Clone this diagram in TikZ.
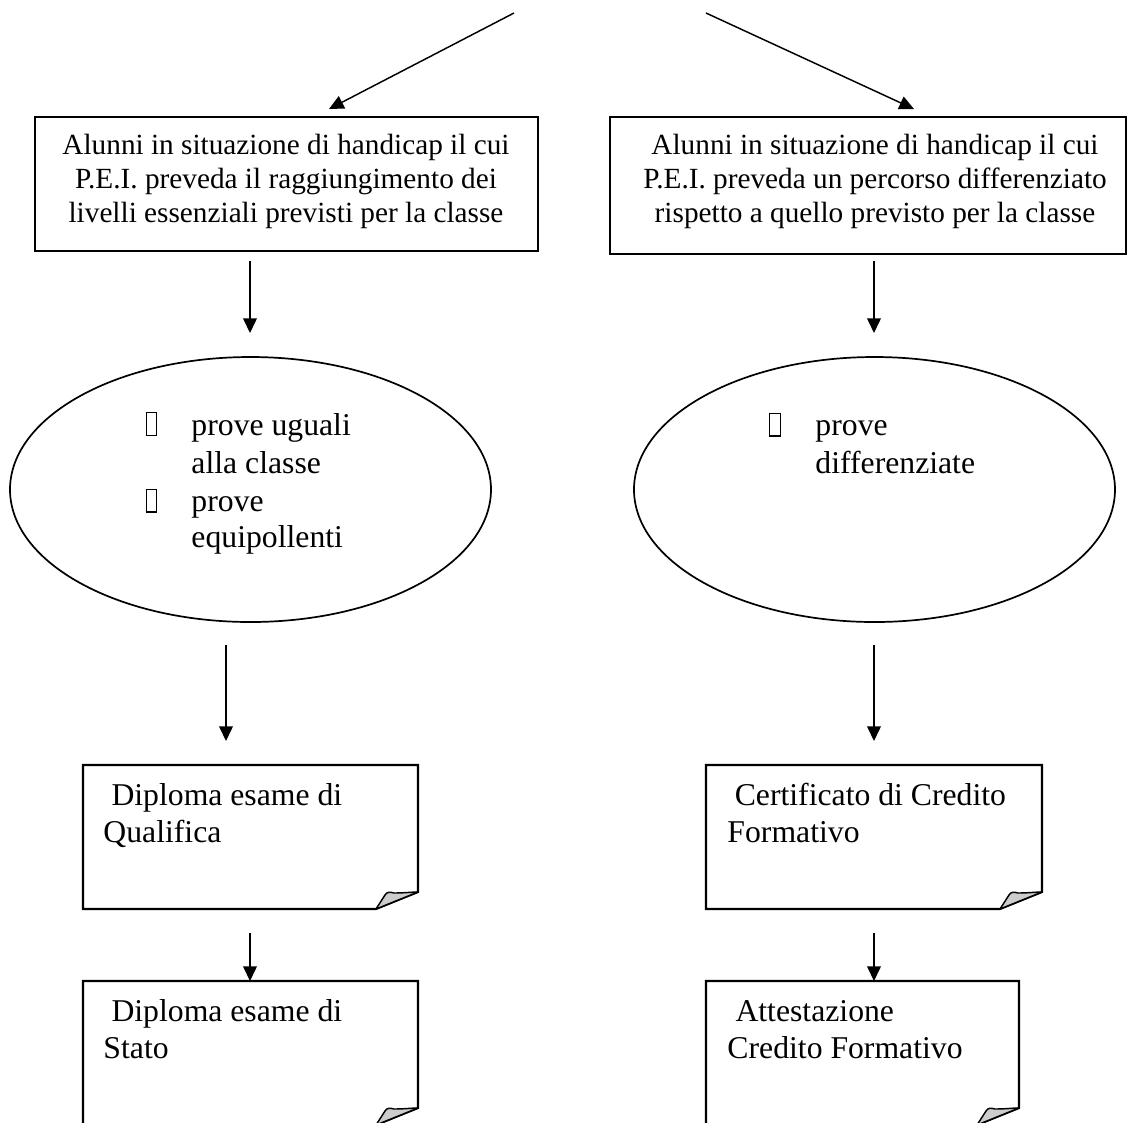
\documentclass[tikz,border=0pt]{standalone}
\usepackage{fontspec}
\setmainfont{Liberation Serif}
\usetikzlibrary{arrows.meta,shapes.geometric}
\newcommand\docshape[4]{%
  \draw[docline] (#1,#2) -- (#3,#2) -- (#3,#4-17) -- (#3-42,#4) -- (#1,#4) -- cycle;
  \filldraw[fill=black!20, line width=0.6pt, line join=round]
    (#3-42,#4) -- (#3-33,#4-14) .. controls (#3-31,#4-17.5) and (#3-28,#4-17) .. (#3-24,#4-16)
    .. controls (#3-14,#4-16) and (#3-6,#4-17) .. (#3,#4-17) -- cycle;
}
\begin{document}
\begin{tikzpicture}[x=0.41pt,y=-0.41pt,
  arr/.style={line width=0.6pt,-{Triangle[length=6pt,width=5.6pt]}},
  txt/.style={inner sep=0pt, font=\fontsize{12}{13.8}\selectfont},
  bigtxt/.style={inner sep=0pt, anchor=base west, align=left},
  boxshape/.style={draw, line width=0.85pt, inner sep=0pt},
  ellshape/.style={draw, ellipse, line width=0.7pt, inner sep=0pt,
    minimum width=481*0.41pt, minimum height=265*0.41pt},
  docline/.style={line width=0.85pt, line join=miter},
  glyph/.style={draw, line width=0.45pt, inner sep=0pt, minimum width=4.4pt, minimum height=9.4pt}]
\useasboundingbox (0,0) rectangle (1128,1122);
\clip (0,0) rectangle (1128,1122);

% top boxes
\node[boxshape, minimum width=503*0.41pt, minimum height=134*0.41pt] (boxA) at (286.5,184) {};
\node[boxshape, minimum width=516*0.41pt, minimum height=137*0.41pt] (boxB) at (868,185.5) {};
\node[txt, align=center, anchor=base] (tA) at (286,222)
  {Alunni in situazione di handicap il cui\\P.E.I. preveda il raggiungimento dei\\livelli essenziali previsti per la classe};
\node[txt, align=center, anchor=base] (tB) at (875,222)
  {Alunni in situazione di handicap il cui\\P.E.I. preveda un percorso differenziato\\rispetto a quello previsto per la classe};

% top arrows
\coordinate (s1) at (514,13);
\coordinate (s2) at (706,13);
\coordinate (e1) at (329,109);
\coordinate (e2) at (914,109);
\draw[arr] (s1) -- (e1);
\draw[arr] (s2) -- (e2);

% ellipses
\node[ellshape] (elA) at (250.5,489.5) {};
\node[ellshape] (elB) at (874.5,489.5) {};
\coordinate (a1s) at (250,261); \coordinate (a1e) at (250,333);
\coordinate (a2s) at (874,261); \coordinate (a2e) at (874,333);
\draw[arr] (a1s) -- (a1e);
\draw[arr] (a2s) -- (a2e);

\node[glyph] (g1) at (151.5,424) {};
\node[bigtxt, font=\fontsize{13}{15.2}\selectfont] (tC) at (191,473) {prove uguali\\alla classe};
\node[glyph] (g2) at (151.5,500.5) {};
\node[bigtxt, font=\fontsize{13}{14.4}\selectfont] (tD) at (191,547) {prove\\equipollenti};
\node[glyph] (g3) at (775,424.5) {};
\node[bigtxt, font=\fontsize{13}{15.2}\selectfont] (tE) at (815,473) {prove\\differenziate};

% arrows to documents
\coordinate (a3s) at (226,645); \coordinate (a3e) at (226,741);
\coordinate (a4s) at (874,645); \coordinate (a4e) at (874,741);
\draw[arr] (a3s) -- (a3e);
\draw[arr] (a4s) -- (a4e);

% documents
\docshape{83}{765}{418}{909}
\docshape{706}{765}{1042}{909}
\docshape{83}{981}{418}{1125}
\docshape{706}{981}{1019}{1125}

\node[bigtxt, font=\fontsize{13}{14.8}\selectfont] (tF) at (103,842) {\hspace{3.3pt}Diploma esame di\\Qualifica};
\node[bigtxt, font=\fontsize{13}{14.8}\selectfont] (tG) at (727,842) {\hspace{3pt}Certificato di Credito\\Formativo};
\node[bigtxt, font=\fontsize{13}{14.8}\selectfont] (tH) at (103,1058) {\hspace{3.3pt}Diploma esame di\\Stato};
\node[bigtxt, font=\fontsize{13}{14.8}\selectfont] (tI) at (727,1058) {\hspace{3.3pt}Attestazione\\Credito Formativo};

\coordinate (a5s) at (250,933); \coordinate (a5e) at (250,981);
\coordinate (a6s) at (874,933); \coordinate (a6e) at (874,981);
\draw[arr] (a5s) -- (a5e);
\draw[arr] (a6s) -- (a6e);
\end{tikzpicture}
\end{document}
